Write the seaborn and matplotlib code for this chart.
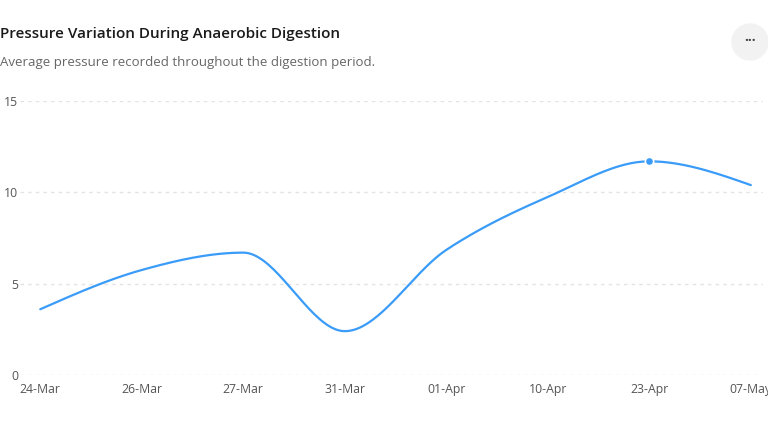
import numpy as np
import pandas as pd
import matplotlib
matplotlib.use("Agg")
import matplotlib.pyplot as plt
import seaborn as sns
from matplotlib.patches import Circle

# data
dates = ["24-Mar", "26-Mar", "27-Mar", "31-Mar", "01-Apr", "10-Apr", "23-Apr", "07-May"]
pressure = [3.6, 5.75, 6.7, 2.4, 6.85, 9.75, 11.7, 10.4]
highlight = "23-Apr"
y_ticks = [0, 5, 10, 15]

LINE = "#3a9cf8"


def monotone_curve(x, y, n=40):
    # monotone cubic (d3 curveMonotoneX style) used only to draw the line shape
    x = np.asarray(x, float)
    y = np.asarray(y, float)
    h = np.diff(x)
    s = np.diff(y) / h
    m = np.zeros_like(y)
    for i in range(1, len(y) - 1):
        p = (s[i - 1] * h[i] + s[i] * h[i - 1]) / (h[i - 1] + h[i])
        m[i] = (np.sign(s[i - 1]) + np.sign(s[i])) * min(abs(s[i - 1]), abs(s[i]), 0.5 * abs(p))
    m[0] = (3 * s[0] - m[1]) / 2
    m[-1] = (3 * s[-1] - m[-2]) / 2
    xs, ys = [], []
    for i in range(len(h)):
        t = np.linspace(0, 1, n, endpoint=(i == len(h) - 1))
        h00 = 2 * t**3 - 3 * t**2 + 1
        h10 = t**3 - 2 * t**2 + t
        h01 = -2 * t**3 + 3 * t**2
        h11 = t**3 - t**2
        xs.append(x[i] + t * h[i])
        ys.append(h00 * y[i] + h10 * h[i] * m[i] + h01 * y[i + 1] + h11 * h[i] * m[i + 1])
    return np.concatenate(xs), np.concatenate(ys)


sns.set_theme(style="white")
plt.rcParams["font.family"] = ["Open Sans", "DejaVu Sans"]

idx = np.arange(len(dates))
cx, cy = monotone_curve(idx, pressure)
curve = pd.DataFrame({"x": cx, "y": cy})

fig = plt.figure(figsize=(7.68, 4.32), dpi=100)
ax = fig.add_axes([0.026, 0.132, 0.9675, 0.634])

sns.lineplot(data=curve, x="x", y="y", ax=ax, color=LINE, linewidth=1.6)
hi = dates.index(highlight)
ax.scatter([hi], [pressure[hi]], s=36, color=LINE, edgecolor="white", linewidth=1.2, zorder=5)

ax.set_xlim(-0.2, 7.12)
ax.set_ylim(0, 15)
ax.set_xticks(idx)
ax.set_xticklabels(dates)
ax.set_yticks(y_ticks)
ax.set_xlabel("")
ax.set_ylabel("")
ax.tick_params(axis="both", length=0, labelsize=8.8, labelcolor="#555555")
ax.tick_params(axis="x", pad=6)
ax.tick_params(axis="y", pad=1.5)
ax.yaxis.grid(True, color="#e3e3e3", linestyle=(0, (2.5, 3)), linewidth=1)
ax.xaxis.grid(False)
sns.despine(ax=ax, left=True, bottom=True)

fig.text(0.0, 0.922, "Pressure Variation During Anaerobic Digestion",
         fontsize=11, fontweight="semibold", color="#1a1a1a", va="center")
fig.text(0.0, 0.856, "Average pressure recorded throughout the digestion period.",
         fontsize=9.5, color="#666666", va="center")

# menu button in top right corner
circ = Circle((7.50, 4.32 - 0.42), 0.18, transform=fig.dpi_scale_trans,
              color="#f2f2f2", zorder=1)
fig.patches.append(circ)
fig.text(750 / 768, 1 - 41 / 432, "···", fontsize=10, fontweight="bold",
         color="#444444", ha="center", va="center")

fig.savefig("out.png", dpi=100)
